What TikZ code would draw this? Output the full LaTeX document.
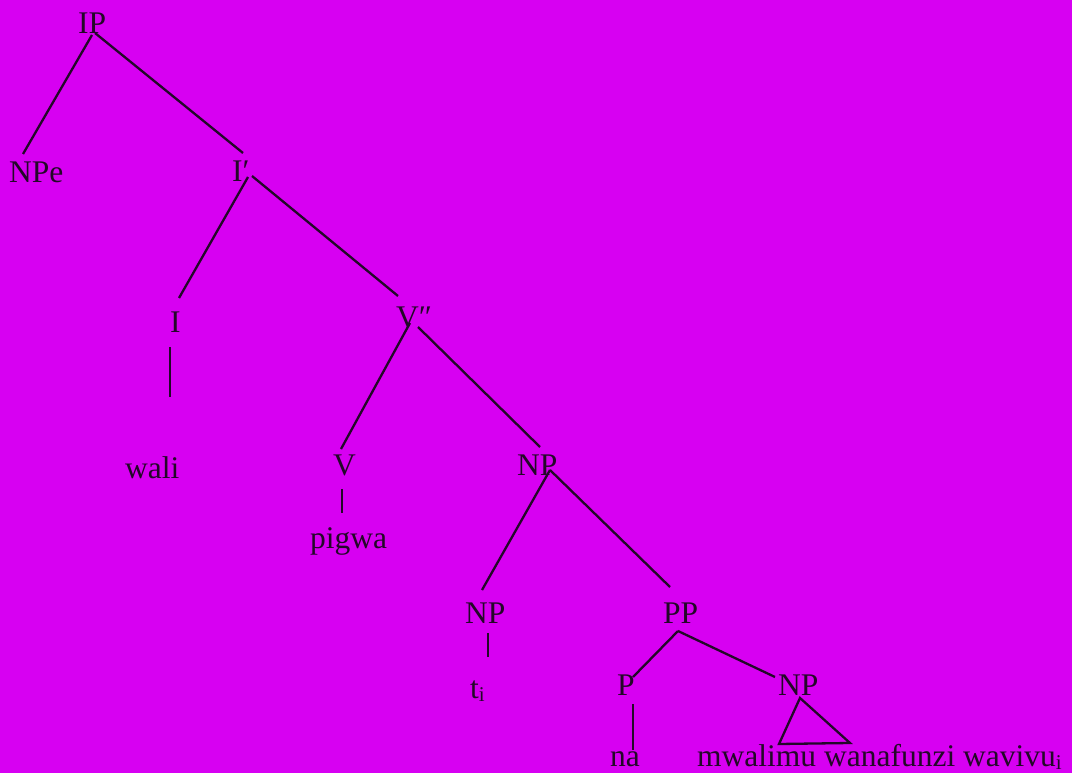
\documentclass[tikz,border=0pt]{standalone}
\usepackage{fontspec}
\setmainfont{Liberation Serif}
\usetikzlibrary{calc}
\definecolor{bg}{RGB}{215,0,242}
\definecolor{ink}{RGB}{35,8,40}
\newcommand{\sbi}{\raisebox{-0.22ex}{\fontsize{21}{21}\selectfont i}}
\begin{document}
\begin{tikzpicture}[x=1pt,y=-1pt,
  lbl/.style={anchor=base west,inner sep=0pt,text=ink,font=\fontsize{31.5}{36}\selectfont},
  edge/.style={draw=ink,line width=2.3pt}]
\fill[bg] (0,0) rectangle (1072,773);
\useasboundingbox (0,0) rectangle (1072,773);
\node[lbl] (IP)   at (78,34)   {IP};
\node[lbl] (NPe)  at (9,183)   {NPe};
\node[lbl] (Ib)   at (232,182) {I′};
\node[lbl] (I)    at (170,332) {I};
\node[lbl] (Vbb)  at (396,327) {V″};
\node[lbl] (wali) at (125,478) {wali};
\node[lbl] (V)    at (333,475) {V};
\node[lbl] (NPa)  at (517,475) {NP};
\node[lbl] (pig)  at (310,548) {pigwa};
\node[lbl] (NPb)  at (465,623) {NP};
\node[lbl] (PP)   at (663,623) {PP};
\node[lbl] (ti)   at (470,698) {t\sbi};
\node[lbl] (P)    at (617,695) {P};
\node[lbl] (NPc)  at (778,695) {NP};
\node[lbl] (na)   at (610,766) {na};
\node[lbl] (mw)   at (697,766) {mwalimu wanafunzi wavivu\sbi};
\path[edge] ($(IP.base west)+(14,1)$) -- ($(NPe.base west)+(14,-29)$);
\path[edge] ($(IP.base west)+(17,-1)$) -- ($(Ib.base west)+(11,-29)$);
\path[edge] ($(Ib.base west)+(16,-5)$) -- ($(I.base west)+(9,-34)$);
\path[edge] ($(Ib.base west)+(20,-6)$) -- ($(Vbb.base west)+(2,-31)$);
\path[edge] ($(I.base west)+(0,15)$) -- ($(wali.base west)+(45,-81)$);
\path[edge] ($(Vbb.base west)+(14,-4)$) -- ($(V.base west)+(8,-26)$);
\path[edge] ($(Vbb.base west)+(22,0)$) -- ($(NPa.base west)+(23,-28)$);
\path[edge] ($(V.base west)+(9,14)$) -- ($(pig.base west)+(32,-35)$);
\path[edge] ($(NPa.base west)+(33,-5)$) -- ($(NPb.base west)+(17,-33)$);
\path[edge] ($(NPa.base west)+(33,-5)$) -- ($(PP.base west)+(7,-36)$);
\path[edge] ($(NPb.base west)+(23,10)$) -- ($(ti.base west)+(18,-41)$);
\path[edge] ($(PP.base west)+(15,8)$) -- ($(P.base west)+(16,-18)$);
\path[edge] ($(PP.base west)+(15,8)$) -- ($(NPc.base west)+(-3,-18)$);
\path[edge] ($(P.base west)+(16,9)$) -- ($(na.base west)+(23,-16)$);
\path[edge,line join=miter] ($(NPc.base west)+(22,3)$) -- ($(mw.base west)+(82,-22)$) -- ($(mw.base west)+(153,-23)$) -- cycle;
\end{tikzpicture}
\end{document}
